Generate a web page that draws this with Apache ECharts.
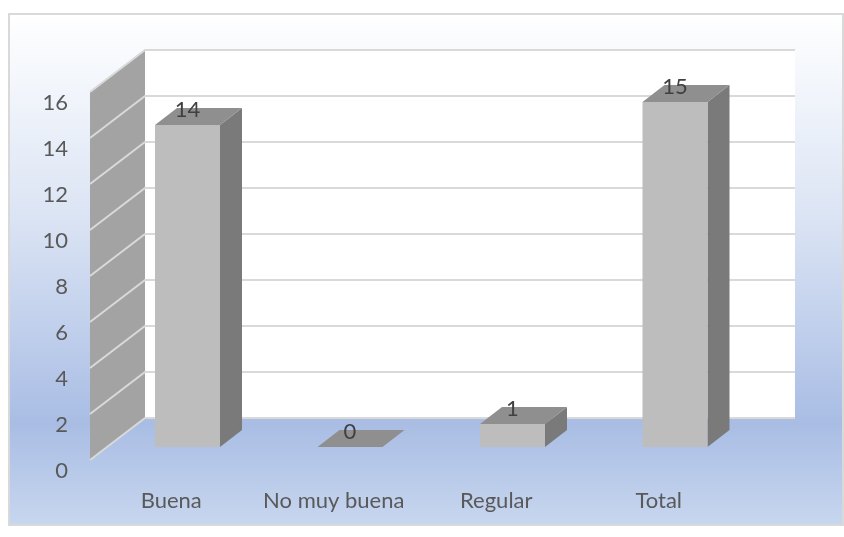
<!DOCTYPE html>
<html>
<head>
<meta charset="utf-8">
<style>html,body{margin:0;padding:0;background:#fff}#c{width:844px;height:537px}</style>
<script src="https://cdn.jsdelivr.net/npm/echarts@6/dist/echarts.min.js"></script>
</head>
<body>
<div id="c"></div>
<script>
const categories = ['Buena', 'No muy buena', 'Regular', 'Total'];
const values = [14, 0, 1, 15];
const ticks = [0, 2, 4, 6, 8, 10, 12, 14, 16];

const WALL = { dx: 55, dy: -42 };
const BAR = { ox: 16.25, oy: -13, w: 65, dx: 22, dy: -17 };
const FONT = 'Lato, "Open Sans", sans-serif';

const chart = echarts.init(document.getElementById('c'), null, { renderer: 'canvas' });

function wallsItem(params, api) {
  const cs = params.coordSys;
  const bottom = api.coord([0, ticks[0]])[1];
  const top = api.coord([0, ticks[ticks.length - 1]])[1];
  const x0 = cs.x;
  return {
    type: 'group',
    children: [
      { type: 'rect', shape: { x: x0 + WALL.dx, y: top + WALL.dy, width: cs.width, height: bottom - top }, style: { fill: '#ffffff' } },
      { type: 'polygon', shape: { points: [[x0, top], [x0 + WALL.dx, top + WALL.dy], [x0 + WALL.dx, bottom + WALL.dy], [x0, bottom]] }, style: { fill: '#a3a3a3' } }
    ]
  };
}

function gridItem(params, api) {
  const cs = params.coordSys;
  const y = api.coord([0, api.value(1)])[1];
  const x0 = cs.x;
  return {
    type: 'polyline',
    shape: { points: [[x0, y], [x0 + WALL.dx, y + WALL.dy], [x0 + WALL.dx + cs.width, y + WALL.dy]] },
    style: { fill: null, stroke: '#d9d9d9', lineWidth: 2 }
  };
}

function barItem(params, api) {
  const idx = api.value(0);
  const topPt = api.coord([idx, api.value(1)]);
  const basePt = api.coord([idx, 0]);
  const xl = topPt[0] + BAR.ox - BAR.w / 2;
  const xr = xl + BAR.w;
  const yt = topPt[1] + BAR.oy;
  const yb = basePt[1] + BAR.oy;
  const children = [];
  if (yb - yt > 0.5) {
    children.push(
      { type: 'polygon', shape: { points: [[xr, yt], [xr + BAR.dx, yt + BAR.dy], [xr + BAR.dx, yb + BAR.dy], [xr, yb]] }, style: { fill: '#7a7a7a' } },
      { type: 'rect', shape: { x: xl, y: yt, width: BAR.w, height: yb - yt }, style: { fill: '#bdbdbd' } }
    );
  }
  children.push(
    { type: 'polygon', shape: { points: [[xl, yt], [xl + BAR.dx, yt + BAR.dy], [xr + BAR.dx, yt + BAR.dy], [xr, yt]] }, style: { fill: '#8f8f8f' } },
    { type: 'text', style: { x: (xl + xr) / 2, y: yt - 15, text: String(api.value(1)), align: 'center', verticalAlign: 'middle', font: '22px ' + FONT, fill: '#404040' } }
  );
  return { type: 'group', children };
}

chart.setOption({
  animation: false,
  backgroundColor: '#ffffff',
  graphic: [{
    type: 'rect', z: -10, silent: true,
    shape: { x: 9, y: 14, width: 834, height: 511 },
    style: {
      fill: new echarts.graphic.LinearGradient(0, 0, 0, 1, [
        { offset: 0, color: '#ffffff' },
        { offset: 0.08, color: '#f8fafd' },
        { offset: 0.4, color: '#dbe4f4' },
        { offset: 0.8, color: '#a9bde4' },
        { offset: 1, color: '#c8d7ef' }
      ]),
      stroke: '#d9d9d9', lineWidth: 2
    }
  }],
  grid: { left: 90, top: 92, width: 650, height: 368 },
  xAxis: {
    type: 'category', data: categories,
    axisLine: { show: false }, axisTick: { show: false }, splitLine: { show: false },
    axisLabel: { margin: 30, fontFamily: FONT, fontSize: 22, color: '#595959', interval: 0 }
  },
  yAxis: {
    type: 'value', min: 0, max: 16, interval: 2,
    axisLine: { show: false }, axisTick: { show: false }, splitLine: { show: false },
    axisLabel: { margin: 22, fontFamily: FONT, fontSize: 22, color: '#595959', verticalAlign: 'top' }
  },
  series: [
    { type: 'custom', z: 1, silent: true, renderItem: wallsItem, data: [[0, 16]], clip: false },
    { type: 'custom', z: 2, silent: true, renderItem: gridItem, data: ticks.map(t => [0, t]), clip: false },
    { type: 'custom', z: 3, silent: true, renderItem: barItem, data: values.map((v, i) => [i, v]), clip: false }
  ]
});
</script>
</body>
</html>
